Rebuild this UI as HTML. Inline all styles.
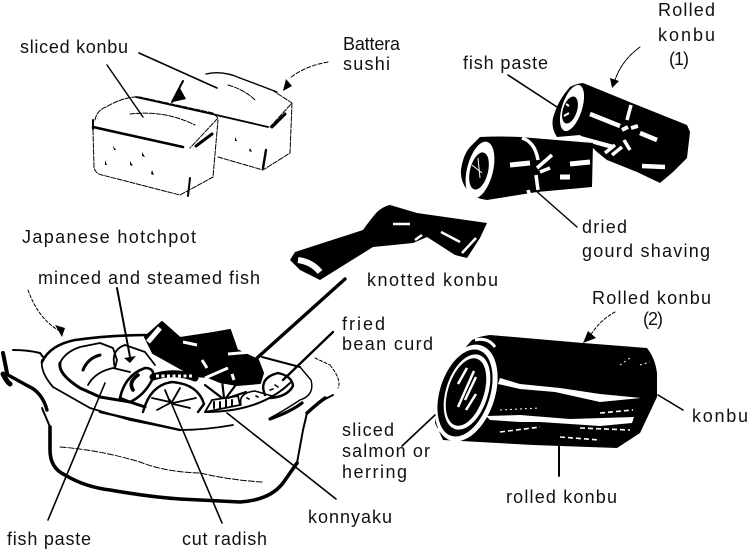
<!DOCTYPE html>
<html><head><meta charset="utf-8"><style>
html,body{margin:0;padding:0;background:#fff}
svg{display:block}
text{font-family:"Liberation Sans",sans-serif;font-size:18px;fill:#111}
</style></head><body>
<svg width="754" height="552" viewBox="0 0 754 552" xmlns="http://www.w3.org/2000/svg">
<!-- labels -->
<text x="658" y="16" textLength="57">Rolled</text>
<text x="658" y="41" textLength="57">konbu</text>
<text x="669" y="65" textLength="20">(1)</text>
<text x="463" y="69" textLength="85">fish paste</text>
<text x="20" y="53" textLength="108">sliced konbu</text>
<text x="343" y="50" textLength="57">Battera</text>
<text x="343" y="70" textLength="47">sushi</text>
<text x="582" y="233" textLength="45">dried</text>
<text x="582" y="257" textLength="128">gourd shaving</text>
<text x="22" y="243" textLength="174">Japanese hotchpot</text>
<text x="38" y="284" textLength="222">minced and steamed fish</text>
<text x="367" y="286" textLength="131">knotted konbu</text>
<text x="342" y="330" textLength="43">fried</text>
<text x="342" y="350" textLength="91">bean curd</text>
<text x="592" y="304" textLength="119">Rolled konbu</text>
<text x="643" y="325" textLength="20">(2)</text>
<text x="692" y="422" textLength="56">konbu</text>
<text x="342" y="436" textLength="52">sliced</text>
<text x="342" y="457" textLength="88">salmon or</text>
<text x="342" y="478" textLength="65">herring</text>
<text x="506" y="503" textLength="111">rolled konbu</text>
<text x="7" y="545" textLength="84">fish paste</text>
<text x="182" y="545" textLength="85">cut radish</text>
<text x="308" y="523" textLength="84">konnyaku</text>

<!-- Battera sushi -->
<g fill="none" stroke="#000" stroke-linecap="round" stroke-linejoin="round">
  <g stroke-width="1" stroke-dasharray="5 1.5">
    <path d="M95 120Q97 110 106 107Q125 96 140 97L213 113L218 118L190 148"/>
    <path d="M93 130L94 168Q96 174 102 175L180 195L213 177L218 120"/>
    <path d="M218 157L263 170L290 153L292 103"/>
    <path d="M272 90L292 103L270 127"/>
    <path d="M130 114Q165 110 195 125"/>
    <path d="M228 85Q245 90 255 100"/>
  </g>
  <path d="M206 74Q222 70 240 78L277 92" stroke-width="1.4"/>
  <path d="M93 127L183 147" stroke-width="2.6"/>
  <path d="M136 97L212 114L268 127" stroke-width="1.8"/>
  <path d="M93 120V129" stroke-width="2"/>
  <path d="M139 53L217 88" stroke-width="1.6"/>
  <path d="M107 65L143 117" stroke-width="1.4"/>
  <path d="M183 81L172 102" stroke-width="2"/>
  <path d="M196 146L212 134" stroke-width="3"/>
  <path d="M272 127L285 114" stroke-width="3"/>
  <path d="M188 196L190 178" stroke-width="2"/>
  <path d="M263 168L266 150" stroke-width="2.4"/>
  <path d="M328 62Q305 66 290 78" stroke-width="1" stroke-dasharray="4 2"/>
</g>
<g fill="#000">
  <polygon points="283,91 286,79 292,86"/>
  <polygon points="173,102 180,88 186,99"/>
  <path d="M113 146l3 4-2 0zM142 152l3 5-3-1zM105 160l2 5-2 0zM130 161l3 5-3-1zM152 170l2 5-3-1zM235 137l2 4-2 0zM250 148l2 4-3-1z"/>
</g>

<!-- Rolled konbu 1 -->
<g stroke-linejoin="round">
  <path d="M570 87Q575 84 583 83L637 105L687 125L690 132L687 158L673 172L660 183L637 172L607 160L597 152L580 135L557 137Q551 128 553 118Q558 100 570 87Z" fill="#000"/>
  <ellipse cx="572" cy="108" rx="10" ry="24" transform="rotate(18 572 108)" fill="#fff"/>
  <ellipse cx="570" cy="110" rx="7" ry="14" transform="rotate(18 570 110)" fill="#000"/>
  <path d="M564 116l5-3M566 104l3 2" stroke="#fff" stroke-width="2"/>
  <path d="M590 114L620 126M640 133L657 140M580 138L613 147M642 166L665 167" stroke="#fff" stroke-width="4.5" fill="none"/>
  <path d="M631 105L627 120" stroke="#fff" stroke-width="3.5" fill="none"/>
  <path d="M622 130L628 127M631 128L638 126" stroke="#fff" stroke-width="4" fill="none"/>
  <path d="M624 140L630 150M612 155L622 147M605 153L615 145" stroke="#fff" stroke-width="3.5" fill="none"/>
  <path d="M480 137Q500 136 520 137L593 143L592 187L537 192L487 200Q472 198 467 190Q460 180 461 170Q463 155 470 147Z" fill="#000"/>
  <ellipse cx="480" cy="170" rx="13" ry="29" transform="rotate(14 480 170)" fill="#fff"/>
  <ellipse cx="479" cy="171" rx="9" ry="19" transform="rotate(14 479 171)" fill="#000"/>
  <path d="M472 165l10 8M478 158l2 20" stroke="#fff" stroke-width="1"/>
  <path d="M510 165L530 163M570 164L590 162M560 177L570 177" stroke="#fff" stroke-width="5" fill="none"/>
  <path d="M522 138Q535 142 538 160M537 168L552 155M540 172L550 168M536 175L538 190M536 195Q530 198 528 190" stroke="#fff" stroke-width="3.5" fill="none"/>
</g>
<g fill="none" stroke="#000" stroke-linecap="round">
  <path d="M508 75L557 107" stroke-width="1.6"/>
  <path d="M577 227L535 190" stroke-width="1.4"/>
  <path d="M640 47Q622 60 615 80" stroke-width="1" stroke-dasharray="4 1"/>
</g>
<polygon points="612,88 610,78 619,81" fill="#000"/>

<!-- Knotted konbu -->
<path d="M290 260L295 252L363 230Q370 220 377 212Q384 206 390 205L417 213L487 223L480 238L467 258L455 255L427 237L413 243L373 247L320 280L300 270Z" fill="#000"/>
<path d="M298 260Q312 262 320 272" stroke="#fff" stroke-width="6" fill="none"/>
<path d="M393 224L410 224M441 232L460 242M415 240L422 235M462 253L476 238" stroke="#fff" stroke-width="2.5" fill="none"/>

<!-- Pot -->
<g fill="none" stroke="#000" stroke-linecap="round" stroke-linejoin="round">
  <path d="M13 350Q28 350 40 353L43 357" stroke-width="2"/>
  <path d="M3 353L7 373" stroke-width="4"/>
  <path d="M3 374Q7 382 10 384" stroke-width="5"/>
  <path d="M8 375L28 386Q42 392 47 410" stroke-width="3.4"/>
  <path d="M42 408L50 427" stroke-width="2"/>
  <path d="M42 362Q50 345 75 340Q110 335 150 335" stroke-width="2.6"/>
  <path d="M42 360Q40 372 53 387L90 408L130 420L180 430Q205 430 233 425" stroke-width="1.8"/>
  <path d="M100 412L180 430" stroke-width="2.4"/>
  <path d="M60 363Q65 352 80 347L100 343L113 348L117 360L115 368" stroke-width="1.8"/>
  <path d="M60 363Q58 374 80 388L100 397L130 402L145 407" stroke-width="3"/>
  <path d="M205 412Q260 412 290 383" stroke-width="2"/>
  <path d="M300 367L311 380Q315 395 300 400Q285 410 270 418" stroke-width="1.4"/>
  <path d="M270 419Q290 412 302 403" stroke-width="3.2"/>
  <path d="M262 357L300 367" stroke-width="2"/>
  <path d="M50 427V450Q50 468 65 475Q85 487 110 490Q150 497 180 499L240 502Q270 500 283 483L297 463" stroke-width="3.6"/>
  <path d="M297 463L303 430L307 413Q318 402 333 395" stroke-width="2"/>
  <path d="M307 413Q318 403 325 398" stroke-width="3.5"/>
  <path d="M330 365Q342 380 338 388M315 358L330 365" stroke-width="1" stroke-dasharray="3 2"/>
  <path d="M60 447Q100 450 140 462Q165 472 200 473Q230 480 262 482" stroke-width="1" stroke-dasharray="6 2"/>
  <path d="M83 370Q88 358 100 355" stroke-width="3"/>
  <path d="M88 385Q95 372 113 368L130 372" stroke-width="1.8"/>
  <path d="M115 368Q110 350 125 345L145 352L155 365" stroke-width="1.8"/>
  <!-- fish-paste ring -->
  <path d="M120 398Q125 375 145 368Q155 368 153 378Q145 395 130 402Z" stroke-width="2.6"/>
  <path d="M138 375Q128 382 133 390" stroke-width="3.6"/>
  <!-- comb band -->
  <path d="M153 377Q175 370 195 378" stroke-width="7"/>
  <!-- radish 1 -->
  <path d="M143 412Q150 385 172 382Q198 384 204 404L198 412" stroke-width="2.4"/>
  <path d="M152 398L170 402M157 410L170 403M165 390L170 402M180 388L172 402M196 398L173 403M190 408L173 404" stroke-width="1.8"/>
  <!-- radish 2 -->
  <path d="M205 385L222 398M222 380L224 398M238 382L226 398M246 392L228 398" stroke-width="2.2"/>
  <!-- konnyaku -->
  <path d="M205 412L240 405L238 396L212 400Z" stroke-width="1.8"/>
  <path d="M214 402V408M220 402V408M226 400V407M232 400V406" stroke-width="2"/>
  <path d="M241 405Q238 393 255 391L272 396" stroke-width="1.6"/>
  <!-- bean curd -->
  <path d="M265 395Q258 378 278 373Q292 376 293 386Q287 397 270 398" stroke-width="2.4"/>
  <path d="M275 385l3 2M270 390l3-1M247 398l2 1M256 396l2 1" stroke-width="1.6"/>
</g>
<path d="M145 337L162 322L180 338L213 333L230 330L237 350L258 360L263 373L260 383L237 385L220 382L208 377L195 376L187 372L153 353Z" fill="#000" stroke="#000" stroke-width="2" stroke-linejoin="round"/>
<path d="M148 342L160 328" stroke="#fff" stroke-width="5"/>
<path d="M183 342L197 345M205 378L228 368M232 374L234 380M202 360L207 368M228 354L252 352" stroke="#fff" stroke-width="3" fill="none"/>
<path d="M156 376H192" stroke="#fff" stroke-width="3" stroke-dasharray="3 2.5"/>
<polygon points="62,337 55,325 65,328" fill="#000"/>
<polygon points="130,363 124,358 136,356" fill="#000"/>
<g fill="none" stroke="#000" stroke-linecap="round">
  <path d="M28 290Q38 318 58 330" stroke-width="1" stroke-dasharray="3 2"/>
  <path d="M117 288L130 357" stroke-width="2"/>
  <path d="M345 279L257 358" stroke-width="3.4"/>
  <path d="M333 332L283 380" stroke-width="2.4"/>
  <path d="M48 520L105 383" stroke-width="1.6"/>
  <path d="M222 523L170 400" stroke-width="1.6"/>
  <path d="M336 499L227 413" stroke-width="1.6"/>
</g>

<!-- Rolled konbu 2 -->
<path d="M472 340Q480 336 490 335L583 343L647 348Q655 358 657 373L657 397L640 433L617 448L533 445L443 440L435 423Q436 405 440 387Q447 370 457 357Z" fill="#000"/>
<ellipse cx="466" cy="393" rx="29" ry="50" transform="rotate(18 466 393)" fill="#fff"/>
<ellipse cx="465" cy="393" rx="25" ry="45" transform="rotate(18 465 393)" fill="#000"/>
<ellipse cx="467" cy="392" rx="21" ry="39" transform="rotate(18 467 392)" fill="#fff"/>
<ellipse cx="466" cy="392" rx="18" ry="35" transform="rotate(18 466 392)" fill="#000"/>
<g stroke="#fff" fill="none">
  <path d="M458 407L474 371M465 400L476 377M458 384L467 368M466 410L476 394" stroke-width="2.5"/>
  <path d="M438 428Q445 438 455 438" stroke-width="2.5"/>
  <path d="M475 340Q488 337 495 347" stroke-width="3"/>
</g>
<path d="M500 378L520 384L560 388L600 394L641 398L600 402L555 392L520 389L498 384Z" fill="#fff"/>
<path d="M486 416L520 415L570 419L634 417L632 423L600 426L540 422L520 422L490 420Z" fill="#fff"/>
<g stroke="#fff" fill="none">
  <path d="M500 432L540 427M560 437L600 440M580 428L630 430M600 413L633 410" stroke-width="1.6" stroke-dasharray="5 3"/>
  <path d="M640 365L650 362M620 365L630 358M500 410L540 408" stroke-width="1" stroke-dasharray="2 3"/>
</g>
<g fill="none" stroke="#000" stroke-linecap="round">
  <path d="M402 446L435 415" stroke-width="1.6"/>
  <path d="M559 445V476" stroke-width="2"/>
  <path d="M658 395L683 410" stroke-width="1.6"/>
  <path d="M615 312Q600 320 590 336" stroke-width="1" stroke-dasharray="3 2"/>
</g>
<polygon points="583,343 588,331 596,338" fill="#000"/>
</svg>
</body></html>
